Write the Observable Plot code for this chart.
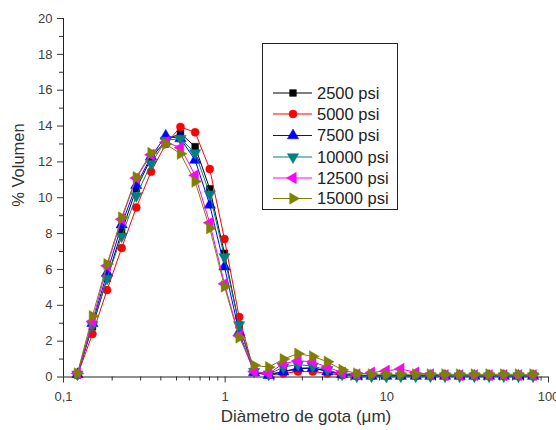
<!DOCTYPE html>
<html><head><meta charset="utf-8">
<script src="https://cdn.jsdelivr.net/npm/d3@7"></script>
<script src="https://cdn.jsdelivr.net/npm/@observablehq/plot@0.6"></script>
<style>
body{margin:0;background:#fff;}
#wrap{position:relative;width:556px;height:430px;font-family:"Liberation Sans",Arial,sans-serif;}
#legend{position:absolute;left:262px;top:43px;width:134px;height:165px;border:1px solid #222;background:#fff;}
</style></head><body><div id="wrap"></div>
<script>
// droplet diameter classes (µm)
const diameters = [0.122,0.151,0.186,0.229,0.282,0.348,0.429,0.529,0.652,0.803,0.99,1.22,1.51,1.86,2.29,2.82,3.48,4.29,5.29,6.52,8.04,9.91,12.2,15.1,18.6,22.9,28.2,34.8,42.9,52.9,65.2,80.3];
const p2500  = [0.15,2.8,5.5,8.1,10.5,12.2,13.2,13.6,12.85,10.5,6.9,2.9,0.3,0.15,0.3,0.45,0.5,0.35,0.15,0.1,0.08,0.08,0.08,0.08,0.08,0.08,0.08,0.08,0.08,0.08,0.08,0.08];
const p5000  = [0.1,2.4,4.85,7.2,9.45,11.45,13.0,13.95,13.65,11.6,7.7,3.35,0.3,0.1,0.2,0.3,0.3,0.2,0.1,0.05,0.05,0.05,0.05,0.05,0.05,0.05,0.05,0.05,0.05,0.05,0.05,0.05];
const p7500  = [0.15,3.0,5.8,8.5,10.7,12.3,13.45,13.3,12.1,9.6,6.15,2.5,0.25,0.1,0.3,0.5,0.5,0.3,0.15,0.05,0.05,0.05,0.05,0.05,0.05,0.05,0.05,0.05,0.05,0.05,0.05,0.05];
const p10000 = [0.15,2.9,5.5,7.85,10.1,11.9,13.2,13.3,12.5,10.2,6.7,2.9,0.3,0.15,0.55,0.7,0.6,0.4,0.15,0.05,0.05,0.05,0.05,0.05,0.05,0.05,0.05,0.05,0.05,0.05,0.05,0.05];
const p12500 = [0.2,3.1,6.2,8.8,11.1,12.4,13.1,12.8,11.25,8.6,5.2,2.3,0.3,0.2,0.75,0.9,0.85,0.55,0.25,0.15,0.25,0.35,0.45,0.25,0.15,0.1,0.1,0.1,0.1,0.1,0.1,0.1];
const p15000 = [0.2,3.4,6.3,8.9,11.15,12.5,13.0,12.45,10.9,8.3,5.05,2.2,0.65,0.55,1.0,1.3,1.15,0.85,0.4,0.2,0.15,0.15,0.15,0.15,0.15,0.15,0.15,0.15,0.15,0.15,0.15,0.15];

const seriesNames = ["2500 psi","5000 psi","7500 psi","10000 psi","12500 psi","15000 psi"];
const seriesValues = [p2500,p5000,p7500,p10000,p12500,p15000];
const seriesColors = ["#000000","#ff0000","#0000ff","#008080","#ff00ff","#808000"];

const xMajorTicks = [0.1,1,10,100];
const xMajorLabels = ["0,1","1","10","100"];
const xMinorTicks = [0.2,0.3,0.4,0.5,0.6,0.7,0.8,0.9,2,3,4,5,6,7,8,9,20,30,40,50,60,70,80,90];
const yMajorTicks = [0,2,4,6,8,10,12,14,16,18,20];
const yMinorTicks = [1,3,5,7,9,11,13,15,17,19];

const sqrt3 = Math.sqrt(3);
function tri(dir){
  return {draw(ctx,size){
    const y = -Math.sqrt(size/(sqrt3*3));
    let p;
    if(dir==="up") p=[[0,y*2],[-sqrt3*y,-y],[sqrt3*y,-y]];
    else if(dir==="down") p=[[0,-y*2],[-sqrt3*y,y],[sqrt3*y,y]];
    else if(dir==="left") p=[[y*2,0],[-y,-sqrt3*y],[-y,sqrt3*y]];
    else p=[[-y*2,0],[y,-sqrt3*y],[y,sqrt3*y]];
    ctx.moveTo(p[0][0],p[0][1]); ctx.lineTo(p[1][0],p[1][1]); ctx.lineTo(p[2][0],p[2][1]); ctx.closePath();
  }};
}
const seriesSymbols = [d3.symbolSquare, d3.symbolCircle, tri("up"), tri("down"), tri("left"), tri("right")];
const seriesR = [3.8,4,4.2,4.2,4.2,4.2];

const rows = seriesValues.flatMap((vals,s)=>vals.map((v,i)=>({d:diameters[i], v, s})));

const marks = [
  Plot.axisX(xMinorTicks,{tickSize:4, tickFormat:()=>"", stroke:"#333"}),
  Plot.axisX(xMajorTicks,{tickSize:6, tickPadding:9, tickFormat:d=>xMajorLabels[xMajorTicks.indexOf(d)], stroke:"#333", fill:"#404040", fontSize:13}),
  Plot.axisY(yMinorTicks,{tickSize:4, tickFormat:()=>"", stroke:"#333"}),
  Plot.axisY(yMajorTicks,{tickSize:6, tickPadding:5, stroke:"#333", fill:"#404040", fontSize:13}),
  Plot.ruleY([0],{stroke:"#222"}),
  Plot.ruleX([0.1],{stroke:"#222"})
];
seriesNames.forEach((name,s)=>{
  const data = rows.filter(r=>r.s===s);
  marks.push(Plot.line(data,{x:"d",y:"v",stroke:seriesColors[s],strokeWidth:1}));
  marks.push(Plot.dot(data,{x:"d",y:"v",symbol:seriesSymbols[s],r:seriesR[s],fill:seriesColors[s],stroke:seriesColors[s],strokeWidth:0.5}));
});
marks.push(Plot.text(["Diàmetro de gota (μm)"],{frameAnchor:"bottom",dy:45,fontSize:17,fill:"#333"}));
marks.push(Plot.text(["% Volumen"],{frameAnchor:"left",dx:-45,dy:9,rotate:-90,fontSize:16.5,fill:"#333"}));

const chart = Plot.plot({
  width:556, height:430,
  marginLeft:63, marginRight:8, marginTop:18, marginBottom:53.5,
  style:{fontFamily:"'Liberation Sans', Arial, sans-serif", fontSize:"13px", color:"#333", background:"#fff"},
  x:{type:"log", domain:[0.1,100], label:null},
  y:{domain:[0,20], label:null},
  marks
});
const wrap = document.getElementById("wrap");
wrap.appendChild(chart);

// legend box
const leg = d3.select(wrap).append("div").attr("id","legend");
const svg = leg.append("svg").attr("width",134).attr("height",165)
  .style("font-family","'Liberation Sans', Arial, sans-serif");
const rowY = [49,70,91.5,113,134,154.5];
seriesNames.forEach((name,s)=>{
  const g = svg.append("g").attr("transform",`translate(0,${rowY[s]})`);
  g.append("line").attr("x1",10).attr("x2",49).attr("y1",0).attr("y2",0).attr("stroke",seriesColors[s]).attr("stroke-width",1.2);
  g.append("path").attr("transform","translate(30,0)")
    .attr("d",d3.symbol(seriesSymbols[s], Math.PI*seriesR[s]*seriesR[s])())
    .attr("fill",seriesColors[s]).attr("stroke",seriesColors[s]).attr("stroke-width",0.5);
  g.append("text").attr("x",54).attr("y",0).attr("dy","0.36em").attr("font-size",16.5).attr("fill","#222").text(name);
});
</script></body></html>
